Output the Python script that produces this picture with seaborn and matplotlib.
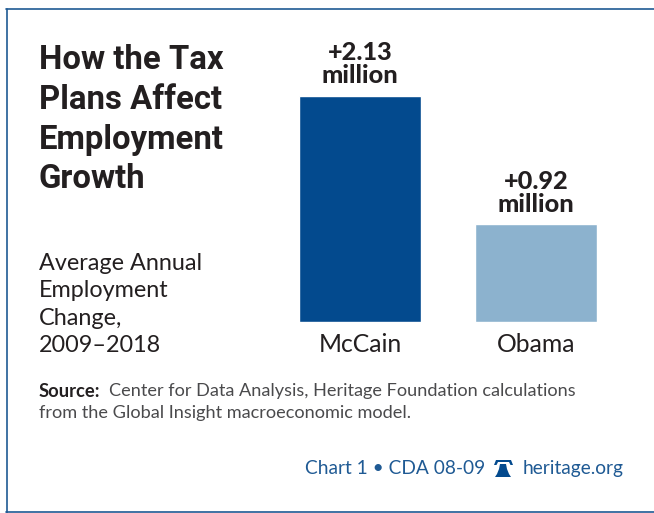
import matplotlib
matplotlib.use("Agg")
import matplotlib.pyplot as plt
from matplotlib.patches import Polygon
import pandas as pd
import seaborn as sns

candidates = ["McCain", "Obama"]
job_change = [2.13, 0.92]
bar_labels = ["+2.13\nmillion", "+0.92\nmillion"]
bar_colors = ["#034a8e", "#8cb2ce"]
navy = "#1f5a94"
ink = "#231f20"

sns.set_theme(style="white")
plt.rcParams["font.family"] = ["Lato", "DejaVu Sans"]

W, H = 654, 513
fig = plt.figure(figsize=(W / 100, H / 100), dpi=100, facecolor="white")

def fx(px):
    return px / W

def fy(py):
    return 1 - py / H

# Panel frame, open on the right-hand side of the page
fig.add_artist(plt.Line2D([fx(6), fx(654)], [fy(8.5), fy(8.5)], color=navy, lw=1.2))
fig.add_artist(plt.Line2D([fx(6.5), fx(6.5)], [fy(8.5), fy(513)], color=navy, lw=1.2))
fig.add_artist(plt.Line2D([fx(6), fx(654)], [fy(512), fy(512)], color=navy, lw=1.2))

# Axes span the bar columns; baseline at y=322 px, tallest bar up to y=96 px
ax = fig.add_axes([fx(272), fy(322), fx(352), 226.5 / H])
frame = pd.DataFrame({"candidate": candidates, "change": job_change})
sns.barplot(data=frame, x="candidate", y="change", hue="candidate", palette=bar_colors,
            legend=False, width=0.69, saturation=1, ax=ax)
ax.set_ylim(0, 2.13)
ax.set_xlim(-0.5, 1.5)
ax.set_xlabel("")
ax.set_ylabel("")
ax.set_yticks([])
ax.tick_params(axis="x", length=0, pad=8, labelsize=17.8, labelcolor=ink)
for side in ax.spines.values():
    side.set_visible(False)
ax.patch.set_alpha(0)

for i, (v, label) in enumerate(zip(job_change, bar_labels)):
    ax.annotate(label, (i, v), xytext=(0, 5.8), textcoords="offset points", ha="center",
                va="bottom", fontsize=18.2, fontweight="black", color=ink, linespacing=1.02,
                annotation_clip=False)

fig.text(fx(39), fy(44), "How the Tax\nPlans Affect\nEmployment\nGrowth", ha="left", va="top",
         fontsize=23.7, fontweight="bold", color=ink, linespacing=1.31, family="Roboto")
fig.text(fx(39), fy(253), "Average Annual\nEmployment\nChange,\n2009–2018", ha="left", va="top",
         fontsize=16.8, color=ink, linespacing=1.38)
fig.text(fx(39), fy(383), "Source:", ha="left", va="top", fontsize=13.2, fontweight="bold", color=ink)
fig.text(fx(109), fy(383), "Center for Data Analysis, Heritage Foundation calculations",
         ha="left", va="top", fontsize=13.1, color="#4a4a4c")
fig.text(fx(39), fy(405), "from the Global Insight macroeconomic model.", ha="left", va="top",
         fontsize=13.1, color="#4a4a4c")
fig.text(fx(305), fy(460), "Chart 1 • CDA 08-09", ha="left", va="top", fontsize=13.8, color=navy)
fig.text(fx(523), fy(460), "heritage.org", ha="left", va="top", fontsize=13.8, color=navy)

# Liberty bell emblem between the chart number and the web address
bell_body = [(495, 477), (497, 474), (499, 469), (500, 464), (506, 464),
             (507, 469), (509, 474), (511, 477)]
bell_yoke = [(494, 465), (496, 460), (511, 460), (513, 465), (510.5, 465),
             (509, 462), (498, 462), (496.5, 465)]
for outline in (bell_body, bell_yoke):
    fig.add_artist(Polygon([(fx(x), fy(y)) for x, y in outline], closed=True,
                           transform=fig.transFigure, fc="#034a8e", ec="none"))

fig.savefig("out.png", dpi=100)
